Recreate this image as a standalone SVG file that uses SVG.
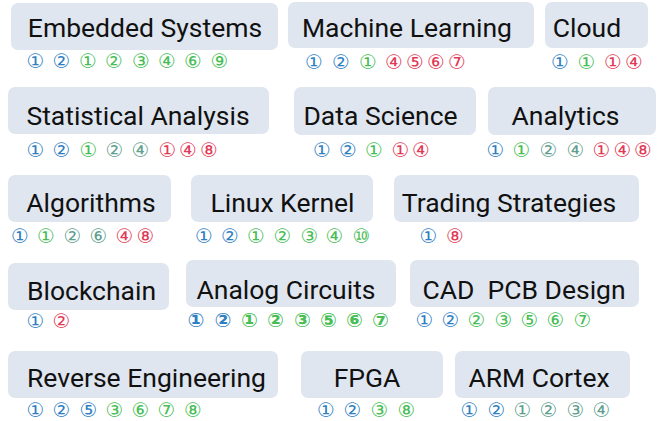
<svg xmlns="http://www.w3.org/2000/svg" width="664" height="421" viewBox="0 0 664 421">
<style>
.box{fill:#dfe6ef;}
.lbl{font-family:Roboto,"Liberation Sans",sans-serif;font-size:26.5px;fill:#111;text-anchor:middle;}
.d{font-family:"DejaVu Sans","Noto Sans CJK SC",sans-serif;font-size:20px;text-anchor:middle;dominant-baseline:central;}
.b{fill:#2f80c2;}
.g{fill:#46bd55;}
.t{fill:#5f9f8f;}
.r{fill:#e03a56;}
.bold{font-weight:bold;}
</style>
<rect width="664" height="421" fill="#ffffff"/>
<g id="n-embedded">
<rect class="box" x="11" y="3" width="267" height="47" rx="7"/>
<text class="lbl" x="145" y="37">Embedded Systems</text>
<text class="d" y="61"><tspan class="b" x="35.5">①</tspan><tspan class="b" x="61.5">②</tspan><tspan class="g" x="88">①</tspan><tspan class="g" x="114">②</tspan><tspan class="g" x="141">③</tspan><tspan class="g" x="167">④</tspan><tspan class="g" x="193">⑥</tspan><tspan class="g" x="219.5">⑨</tspan></text>
</g>
<g id="n-ml">
<rect class="box" x="288" y="2" width="246" height="46" rx="7"/>
<text class="lbl" x="407" y="37">Machine Learning</text>
<text class="d" y="61.5"><tspan class="b" x="314">①</tspan><tspan class="b" x="341">②</tspan><tspan class="g" x="368">①</tspan><tspan class="r" x="394">④</tspan><tspan class="r" x="415">⑤</tspan><tspan class="r" x="436">⑥</tspan><tspan class="r" x="457">⑦</tspan></text>
</g>
<g id="n-cloud">
<rect class="box" x="545" y="2" width="103" height="46" rx="7"/>
<text class="lbl" x="587" y="37">Cloud</text>
<text class="d" y="61.5"><tspan class="b" x="560">①</tspan><tspan class="g" x="586.5">①</tspan><tspan class="r" x="613">①</tspan><tspan class="r" x="634">④</tspan></text>
</g>
<g id="n-stat">
<rect class="box" x="8" y="87" width="261" height="47" rx="7"/>
<text class="lbl" x="138" y="125">Statistical Analysis</text>
<text class="d" y="149.5"><tspan class="b" x="35.5">①</tspan><tspan class="b" x="61.5">②</tspan><tspan class="g" x="88.5">①</tspan><tspan class="t" x="114.5">②</tspan><tspan class="t" x="140.5">④</tspan><tspan class="r" x="167.5">①</tspan><tspan class="r" x="188">④</tspan><tspan class="r" x="209">⑧</tspan></text>
</g>
<g id="n-ds">
<rect class="box" x="294" y="87" width="182" height="48" rx="7"/>
<text class="lbl" x="380.5" y="125">Data Science</text>
<text class="d" y="149.5"><tspan class="b" x="322">①</tspan><tspan class="b" x="348">②</tspan><tspan class="g" x="374">①</tspan><tspan class="r" x="400.5">①</tspan><tspan class="r" x="421">④</tspan></text>
</g>
<g id="n-analytics">
<rect class="box" x="488" y="87" width="168" height="48" rx="7"/>
<text class="lbl" x="565.5" y="125">Analytics</text>
<text class="d" y="149.5"><tspan class="b" x="495.5">①</tspan><tspan class="g" x="521.5">①</tspan><tspan class="t" x="548.5">②</tspan><tspan class="t" x="575.5">④</tspan><tspan class="r" x="601.5">①</tspan><tspan class="r" x="622.5">④</tspan><tspan class="r" x="643">⑧</tspan></text>
</g>
<g id="n-algo">
<rect class="box" x="8" y="175" width="163" height="47" rx="7"/>
<text class="lbl" x="91" y="212">Algorithms</text>
<text class="d" y="236"><tspan class="b" x="20">①</tspan><tspan class="g" x="46">①</tspan><tspan class="t" x="72.5">②</tspan><tspan class="t" x="98.5">⑥</tspan><tspan class="r" x="124.5">④</tspan><tspan class="r" x="145.5">⑧</tspan></text>
</g>
<g id="n-linux">
<rect class="box" x="191" y="175" width="182" height="47" rx="7"/>
<text class="lbl" x="282.5" y="212">Linux Kernel</text>
<text class="d" y="236"><tspan class="b" x="204">①</tspan><tspan class="b" x="230">②</tspan><tspan class="g" x="256">①</tspan><tspan class="g" x="282.5">②</tspan><tspan class="g" x="309.5">③</tspan><tspan class="g" x="334.5">④</tspan><tspan class="g" x="361.5">⑩</tspan></text>
</g>
<g id="n-trading">
<rect class="box" x="394" y="175" width="245" height="47" rx="7"/>
<text class="lbl" x="509" y="212">Trading Strategies</text>
<text class="d" y="236"><tspan class="b" x="428.5">①</tspan><tspan class="r" x="455">⑧</tspan></text>
</g>
<g id="n-blockchain">
<rect class="box" x="8" y="263" width="161" height="47" rx="7"/>
<text class="lbl" x="91.5" y="300">Blockchain</text>
<text class="d" y="321"><tspan class="b" x="35.5">①</tspan><tspan class="r" x="61.5">②</tspan></text>
</g>
<g id="n-analog">
<rect class="box" x="186" y="260" width="210" height="47" rx="7"/>
<text class="lbl" x="286" y="299">Analog Circuits</text>
<text class="d bold" y="320"><tspan class="b" x="196">①</tspan><tspan class="b" x="223">②</tspan><tspan class="g" x="249.5">①</tspan><tspan class="g" x="275.5">②</tspan><tspan class="g" x="302.5">③</tspan><tspan class="g" x="328.5">⑤</tspan><tspan class="g" x="354.5">⑥</tspan><tspan class="g" x="380.5">⑦</tspan></text>
</g>
<g id="n-cad">
<rect class="box" x="410" y="260" width="229" height="47" rx="7"/>
<text class="lbl" x="524" y="299">CAD&#160; PCB Design</text>
<text class="d" y="320"><tspan class="b" x="424.5">①</tspan><tspan class="b" x="450.5">②</tspan><tspan class="g" x="476.5">②</tspan><tspan class="g" x="503.5">③</tspan><tspan class="g" x="529.5">⑤</tspan><tspan class="g" x="555.5">⑥</tspan><tspan class="g" x="582.5">⑦</tspan></text>
</g>
<g id="n-reverse">
<rect class="box" x="8" y="351" width="270" height="47" rx="7"/>
<text class="lbl" x="146.5" y="387">Reverse Engineering</text>
<text class="d" y="409.5"><tspan class="b" x="35.5">①</tspan><tspan class="b" x="61.5">②</tspan><tspan class="b" x="88.5">⑤</tspan><tspan class="g" x="114.5">③</tspan><tspan class="g" x="140.5">⑥</tspan><tspan class="g" x="166.5">⑦</tspan><tspan class="g" x="193">⑧</tspan></text>
</g>
<g id="n-fpga">
<rect class="box" x="301" y="351" width="142" height="47" rx="7"/>
<text class="lbl" x="367" y="387">FPGA</text>
<text class="d" y="409.5"><tspan class="b" x="326">①</tspan><tspan class="b" x="352.5">②</tspan><tspan class="g" x="379.5">③</tspan><tspan class="g" x="406.5">⑧</tspan></text>
</g>
<g id="n-arm">
<rect class="box" x="455" y="351" width="175" height="47" rx="7"/>
<text class="lbl" x="539" y="387">ARM Cortex</text>
<text class="d" y="409.5"><tspan class="b" x="469.5">①</tspan><tspan class="b" x="496.5">②</tspan><tspan class="t" x="522.5">①</tspan><tspan class="t" x="548.5">②</tspan><tspan class="t" x="575.5">③</tspan><tspan class="t" x="601.5">④</tspan></text>
</g>
</svg>
